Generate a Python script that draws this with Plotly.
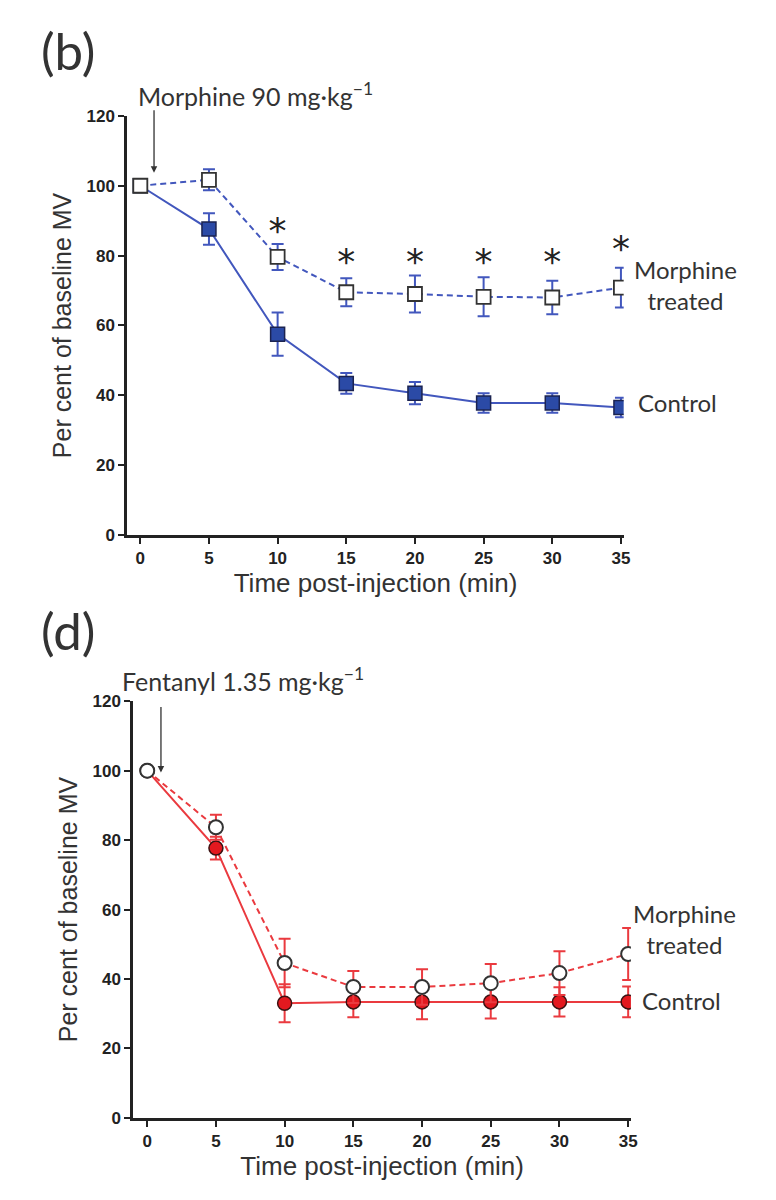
import plotly.graph_objects as go

# ---------------- data ----------------
time_min = [0, 5, 10, 15, 20, 25, 30, 35]
x_ticks = [0, 5, 10, 15, 20, 25, 30, 35]
y_ticks = [0, 20, 40, 60, 80, 100, 120]

# Panel (b): morphine 90 mg/kg challenge
b_control = [100, 87.6, 57.5, 43.4, 40.6, 37.8, 37.8, 36.5]
b_control_err = [0, 4.5, 6.2, 3.0, 3.2, 2.8, 2.8, 2.8]
b_treated = [100, 101.7, 79.6, 69.5, 69.0, 68.2, 68.0, 70.8]
b_treated_err = [0, 3.0, 3.7, 4.0, 5.3, 5.6, 4.8, 5.7]
b_star_x = [10, 15, 20, 25, 30, 35]
b_star_y = [86.2, 77.3, 77.3, 77.3, 77.3, 81]

# Panel (d): fentanyl 1.35 mg/kg challenge
d_control = [100, 77.7, 33.0, 33.4, 33.4, 33.4, 33.4, 33.4]
d_control_err = [0, 3.3, 5.5, 4.4, 5.0, 4.8, 4.2, 4.4]
d_treated = [100, 83.7, 44.6, 37.7, 37.7, 38.8, 41.7, 47.2]
d_treated_err = [0, 3.6, 7.0, 4.6, 5.1, 5.5, 6.3, 7.5]

# Figure size (the page adds its own 8px body margin around it) and a
# mapping from target page pixels to figure paper fractions.
W, H = 760, 1184
X_OFF = 6
Y_OFF, Y_SCALE = 16, 0.985


def px(X):
    return (X - X_OFF) / W


def py(Y):
    return 1 - ((Y - Y_OFF) / Y_SCALE) / H


BLUE = "#4257bd"
BLUE_FILL = "#2b4aa6"
RED = "#ea3a3f"
RED_FILL = "#e3191f"
AX = "#222222"

fig = go.Figure()

# ---- panel (b) ----
fig.add_trace(go.Scatter(
    x=time_min, y=b_control, mode="lines+markers", xaxis="x", yaxis="y",
    line=dict(color=BLUE, width=2),
    marker=dict(symbol="square", size=14, color=BLUE_FILL, line=dict(color="#1b2350", width=1.5)),
    error_y=dict(type="data", array=b_control_err, color=BLUE, thickness=2, width=6),
    showlegend=False))
fig.add_trace(go.Scatter(
    x=time_min, y=b_treated, mode="lines+markers", xaxis="x", yaxis="y",
    line=dict(color=BLUE, width=2, dash="6px,4px"),
    marker=dict(symbol="square", size=14, color="white", line=dict(color="#333333", width=1.8)),
    error_y=dict(type="data", array=b_treated_err, color=BLUE, thickness=2, width=6),
    showlegend=False))
fig.add_trace(go.Scatter(
    x=b_star_x, y=b_star_y, mode="text", text=["*"] * len(b_star_x), cliponaxis=False,
    textfont=dict(family="DejaVu Sans", size=36, color="#222222"),
    xaxis="x", yaxis="y", showlegend=False))

# ---- panel (d) ----
fig.add_trace(go.Scatter(
    x=time_min, y=d_control, mode="lines+markers", xaxis="x2", yaxis="y2",
    line=dict(color=RED, width=2),
    marker=dict(symbol="circle", size=14, color=RED_FILL, line=dict(color="#3a1212", width=1.5)),
    error_y=dict(type="data", array=d_control_err, color=RED, thickness=2, width=6),
    showlegend=False))
fig.add_trace(go.Scatter(
    x=time_min, y=d_treated, mode="lines+markers", xaxis="x2", yaxis="y2",
    line=dict(color=RED, width=2, dash="6px,4px"),
    marker=dict(symbol="circle", size=14, color="white", line=dict(color="#333333", width=2)),
    error_y=dict(type="data", array=d_treated_err, color=RED, thickness=2, width=6),
    showlegend=False))

tickfont = dict(family="Liberation Sans, Arial", size=17, color=AX, weight="bold")
titlefont = dict(family="Liberation Sans, Arial", size=25, color="#333333")


def xaxis(domain, anchor, rng):
    return dict(domain=domain, anchor=anchor, range=rng, tickmode="array", tickvals=x_ticks,
                ticks="outside", ticklen=6, tickwidth=2, tickcolor=AX, showline=True,
                linecolor=AX, linewidth=3, showgrid=False, zeroline=False, tickfont=tickfont,
                title=dict(text="Time post-injection (min)",
                           font=dict(family="Liberation Sans, Arial", size=26, color="#333333"),
                           standoff=0))


def yaxis(domain, anchor):
    return dict(domain=domain, anchor=anchor, range=[0, 120], tickmode="array", tickvals=y_ticks,
                ticks="outside", ticklen=6, tickwidth=2, tickcolor=AX, showline=True,
                linecolor=AX, linewidth=3, showgrid=False, zeroline=False, tickfont=tickfont,
                title=dict(text="Per cent of baseline MV", font=titlefont, standoff=8))


fig.update_layout(
    width=W, height=H, margin=dict(l=0, r=0, t=0, b=0),
    paper_bgcolor="white", plot_bgcolor="white",
    xaxis=xaxis([px(126.5), px(627.4)], "y", [-0.94, 35.2]),
    yaxis=yaxis([py(534.5), py(115)], "x"),
    xaxis2=xaxis([px(132.5), px(634.7)], "y2", [-1.01, 35.2]),
    yaxis2=yaxis([py(1118), py(701)], "x2"),
)

lab = dict(family="Lato, Noto Sans", size=24, color="#333333")
ann = [
    dict(text="(b)", x=px(37), y=py(50), xref="paper", yref="paper", xanchor="left", yanchor="middle",
         showarrow=False, font=dict(family="Lato, Noto Sans", size=51, color="#333333")),
    dict(text="(d)", x=px(37), y=py(630), xref="paper", yref="paper", xanchor="left", yanchor="middle",
         showarrow=False, font=dict(family="Lato, Noto Sans", size=51, color="#333333")),
    dict(text="Morphine 90 mg·kg<sup>−1</sup>", x=px(135), y=py(94), xref="paper", yref="paper",
         xanchor="left", yanchor="middle", showarrow=False, font=dict(lab, size=25)),
    dict(text="Fentanyl 1.35 mg·kg<sup>−1</sup>", x=px(119), y=py(679), xref="paper", yref="paper",
         xanchor="left", yanchor="middle", showarrow=False, font=dict(lab, size=25)),
    # arrows
    dict(text="", x=1, y=103.7, xref="x", yref="y", ax=0, ay=-64, showarrow=True,
         arrowhead=2, arrowsize=1, arrowwidth=1.3, arrowcolor="#333333"),
    dict(text="", x=1, y=99.5, xref="x2", yref="y2", ax=0, ay=-67, showarrow=True,
         arrowhead=2, arrowsize=1, arrowwidth=1.3, arrowcolor="#333333"),
    # line labels
    dict(text="Morphine<br>treated", x=px(690), y=py(284), xref="paper", yref="paper",
         xanchor="center", yanchor="middle", align="center", showarrow=False, font=lab),
    dict(text="Control", x=px(640), y=py(401.5), xref="paper", yref="paper",
         xanchor="left", yanchor="middle", showarrow=False, font=lab),
    dict(text="Morphine<br>treated", x=px(689), y=py(929), xref="paper", yref="paper",
         xanchor="center", yanchor="middle", align="center", showarrow=False, font=lab),
    dict(text="Control", x=px(644), y=py(1000.7), xref="paper", yref="paper",
         xanchor="left", yanchor="middle", showarrow=False, font=lab),
]
fig.update_layout(annotations=ann)

fig.write_html("out.html", config={"displayModeBar": False})
